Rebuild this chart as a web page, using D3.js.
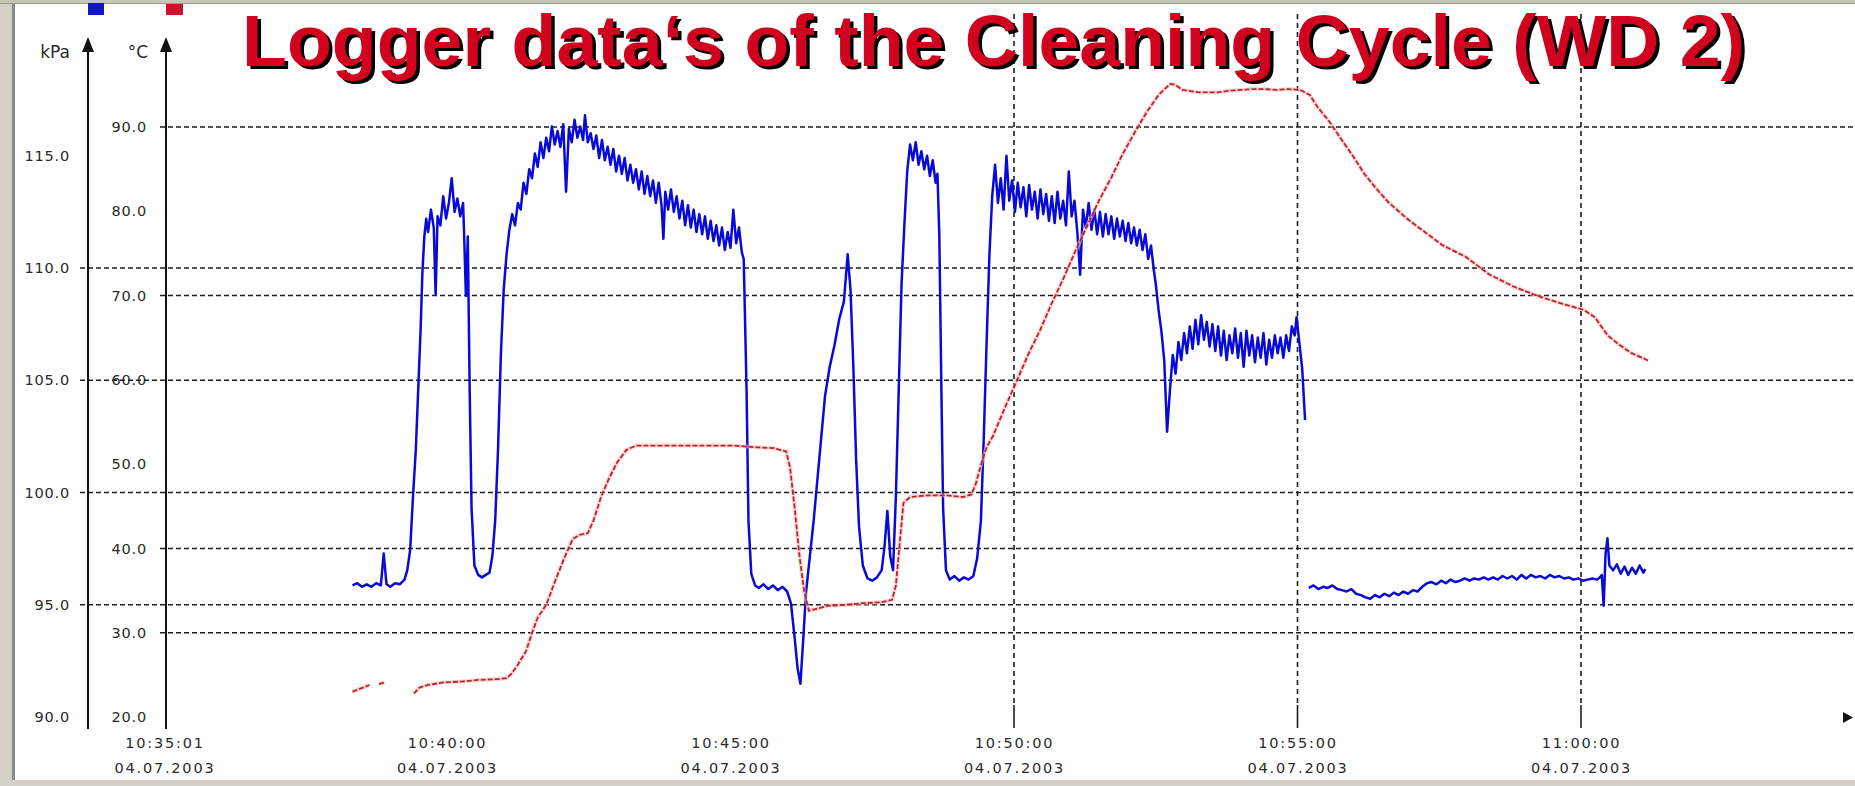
<!DOCTYPE html>
<html><head><meta charset="utf-8">
<script src="https://cdn.jsdelivr.net/npm/d3@7"></script>
<style>body{margin:0;background:#fff;overflow:hidden} svg{display:block}</style>
</head><body>
<svg id="c" width="1855" height="786"></svg>
<script>
// ---------- data ----------
const title = "Logger data\u2018s of the Cleaning Cycle (WD 2)";
const kpaTicks = [90, 95, 100, 105, 110, 115];
const kpaGrid = [95, 100, 105, 110];
const tempTicks = [20, 30, 40, 50, 60, 70, 80, 90];
const tempGrid = [30, 40, 60, 70, 90];
const timeTicks = ["10:35:01", "10:40:00", "10:45:00", "10:50:00", "10:55:00", "11:00:00"];
const timeGrid = ["10:50:00", "10:55:00", "11:00:00"];
const dateLabel = "04.07.2003";
const startTime = "10:35:00";
// [seconds after startTime, kPa]
const pressure = [[200,95.86],[205,95.96],[210,95.80],[215,95.91],[220,95.80],[225,95.96],[230,95.86],[233,97.28],[236,95.91],[240,95.80],[245,95.96],[250,95.91],[255,96.12],[258,96.54],[261,97.44],[264,99.81],[267,101.91],[270,105.07],[272,107.18],[274,109.82],[276,111.40],[278,112.19],[280,111.6],[283,112.6],[286,111.8],[288,108.8],[290,112.3],[293,111.9],[296,113.2],[299,112.2],[302,112.9],[305,114.0],[308,112.5],[311,113.1],[314,112.3],[317,112.9],[318,111.66],[320,108.76],[322,111.40],[324,104.55],[326,99.28],[329,96.75],[333,96.33],[337,96.22],[341,96.33],[345,96.43],[348,97.17],[351,98.75],[354,101.91],[357,106.13],[360,109.03],
[363,110.6],[366,111.7],[369,112.4],[372,111.9],[375,112.9],[378,112.6],[381,113.8],[384,113.3],[387,114.4],[390,114.0],[393,115.1],[396,114.5],[399,115.6],[402,114.9],[405,115.8],[408,115.2],[411,116.3],[414,115.5],[417,116.1],[420,115.4],[423,116.4],[426,113.4],[429,116.2],[432,115.6],[435,116.6],[438,115.8],[441,116.3],[444,115.7],[446,116.8],[449,115.6],[452,116.0],[455,115.3],[458,115.9],[461,114.9],[464,115.7],[467,114.8],[470,115.4],[473,114.6],[476,115.3],[479,114.3],[482,115.0],[485,114.2],[488,114.9],[491,113.9],[494,114.6],[497,113.8],[500,114.4],[503,113.5],[506,114.3],[509,113.3],[512,114.1],[515,113.2],[518,113.9],[521,112.9],[524,113.8],[527,112.8],[529,111.3],[531,113.4],[534,112.6],[537,113.5],[540,112.5],[543,113.2],[546,112.2],[549,113.0],[552,111.9],[555,112.8],[558,111.8],[561,112.6],[564,111.6],[567,112.4],[570,111.5],[573,112.3],[576,111.3],[579,112.1],[582,111.2],[585,111.9],[588,111.0],[591,111.8],[594,110.8],[597,111.6],[600,110.9],[603,112.6],[606,111.1],[609,111.8],[612,110.7],[614,110.4],
[617,104.55],[619,98.75],[622,96.38],[626,95.86],[630,95.75],[635,95.91],[640,95.70],[645,95.86],[650,95.65],[655,95.80],[660,95.59],[664,95.06],[668,93.48],[671,92.17],[674,91.48],[677,93.48],[680,95.59],[684,97.17],[688,98.75],[692,100.60],[696,102.44],[700,104.29],[705,105.60],[710,106.55],[715,107.71],[720,108.50],[724,110.61],[727,109.03],[730,105.60],[733,101.39],[736,98.49],[740,96.75],[745,96.17],[750,96.07],[755,96.22],[760,96.54],[763,97.59],[766,99.18],[769,97.17],[772,96.54],[775,99.81],[778,104.55],[781,109.29],[784,111.93],
[787,114.3],[790,115.5],[793,114.8],[796,115.6],[799,114.6],[802,115.2],[805,114.4],[808,115.0],[811,114.1],[814,114.8],[817,113.8],[819,114.2],
[821,111.40],[823,105.07],[825,99.28],[828,96.54],[832,96.12],[837,96.28],[842,96.07],[847,96.22],[852,96.12],[857,96.28],[861,97.07],[865,98.75],[868,102.44],[871,106.66],[874,110.61],
[877,113.24],[880,114.6],[883,112.9],[886,114.0],[889,112.6],[892,115.0],[895,113.0],[898,113.9],[901,112.5],[904,113.8],[907,112.7],[910,113.6],[913,112.3],[916,113.7],[919,112.6],[922,113.4],[925,112.2],[928,113.5],[931,112.4],[934,113.3],[937,112.1],[940,113.2],[943,112.0],[946,113.4],[949,112.2],[952,113.0],[955,111.9],[958,114.3],[961,112.3],[964,113.0],[967,111.6],[970,109.7],[973,112.6],[976,111.8],[979,112.9],[982,111.7],[985,112.6],[988,111.5],[991,112.5],[994,111.4],[997,112.4],[1000,111.5],[1003,112.3],[1006,111.3],[1009,112.2],[1012,111.4],[1015,112.1],[1018,111.2],[1021,112.0],[1024,111.1],[1027,111.8],[1030,111.0],[1033,111.7],[1036,110.8],[1039,111.5],[1042,110.4],[1045,111.0],[1048,109.9],
[1050,109.29],[1053,108.13],[1056,107.18],[1059,105.87],
[1062,102.71],[1065,104.55],[1068,106.13],[1071,105.29],[1074,106.7],[1077,105.9],[1080,107.1],[1083,106.2],[1086,107.4],[1089,106.4],[1092,107.7],[1095,106.6],[1098,107.9],[1101,106.8],[1104,107.6],[1107,106.5],[1110,107.5],[1113,106.3],[1116,107.4],[1119,106.1],[1122,107.2],[1125,105.9],[1128,107.0],[1131,106.2],[1134,107.3],[1137,106.0],[1140,107.1],[1143,105.6],[1146,107.2],[1149,106.1],[1152,107.0],[1155,105.8],[1158,106.9],[1161,106.0],[1164,107.1],[1167,105.7],[1170,106.8],[1173,106.0],[1176,107.0],[1179,106.2],[1182,106.9],[1185,106.0],[1188,107.0],[1191,106.3],[1194,107.4],[1197,107.0],[1199,107.81],[1202,106.66],[1205,105.50],[1208,103.23],[1210,null],
[1212,95.75],[1217,95.86],[1222,95.70],[1227,95.80],[1232,95.75],[1237,95.86],[1242,95.70],[1247,95.65],[1252,95.59],[1257,95.70],[1262,95.49],[1267,95.43],[1272,95.33],[1277,95.27],[1282,95.43],[1287,95.33],[1292,95.49],[1297,95.38],[1302,95.54],[1307,95.43],[1312,95.59],[1317,95.49],[1322,95.65],[1327,95.59],[1332,95.80],[1337,95.96],[1342,96.01],[1347,95.91],[1352,96.07],[1357,95.96],[1362,96.12],[1367,96.01],[1372,96.07],[1377,96.17],[1382,96.07],[1387,96.17],[1392,96.12],[1397,96.22],[1402,96.12],[1407,96.22],[1412,96.12],[1417,96.28],[1422,96.17],[1427,96.28],[1432,96.12],[1437,96.33],[1442,96.17],[1447,96.33],[1452,96.22],[1457,96.28],[1462,96.17],[1467,96.33],[1472,96.22],[1477,96.28],[1482,96.17],[1487,96.22],[1492,96.12],[1497,96.17],[1502,96.07],[1507,96.12],[1512,96.17],[1517,96.12],[1520,96.22],[1522,96.33],[1524,94.96],[1526,97.28],[1528,97.96],[1530,96.75],[1534,96.54],[1538,96.80],[1542,96.38],[1546,96.70],[1550,96.33],[1554,96.65],[1558,96.38],[1562,96.75],[1566,96.43],[1568,96.59]];
// [seconds after startTime, °C]
const temperature = [[200,23.0],[209,23.4],[218,23.8],[222,null],[228,23.9],[234,24.1],[240,null],[265,22.8],[271,23.5],[280,23.8],[296,24.1],[315,24.2],[334,24.4],[353,24.5],[363,24.6],[368,25.1],[375,26.2],[384,27.9],[390,30.0],[396,31.8],[405,33.3],[415,36.3],[425,39.1],[433,41.1],[440,41.6],[449,41.8],[455,43.3],[463,46.1],[471,48.2],[480,50.2],[490,51.7],[500,52.2],[528,52.2],[553,52.2],[578,52.2],[603,52.2],[628,52.0],[646,51.9],[659,51.5],[663,49.6],[668,44.7],[673,39.1],[678,34.9],[683,32.6],[690,32.8],[703,33.2],[721,33.3],[740,33.5],[759,33.6],[771,33.9],[775,35.6],[779,40.5],[783,45.4],[790,46.1],[809,46.3],[828,46.3],[846,46.1],[855,46.4],[860,47.8],[865,49.9],[871,52.0],[878,53.4],[890,56.6],[903,59.9],[915,63.0],[928,66.0],[940,69.1],[953,72.2],[965,75.3],[978,78.4],[990,81.3],[1003,84.0],[1015,86.8],[1028,89.4],[1040,91.7],[1053,93.8],[1065,95.1],[1071,95.0],[1078,94.4],[1084,94.3],[1096,94.1],[1115,94.1],[1128,94.3],[1140,94.4],[1153,94.5],[1165,94.5],[1178,94.4],[1190,94.5],[1203,94.4],[1213,93.8],[1221,92.4],[1234,90.6],[1246,88.6],[1259,86.5],[1271,84.4],[1284,82.6],[1296,81.1],[1315,79.2],[1334,77.6],[1353,76.0],[1378,74.6],[1403,72.5],[1428,71.1],[1453,70.0],[1478,69.1],[1503,68.3],[1515,67.4],[1528,65.3],[1540,64.2],[1553,63.2],[1571,62.3]];

// ---------- setup ----------
const svg = d3.select("#c");
const W = 1855, H = 786;
const parse = d3.timeParse("%d.%m.%Y %H:%M:%S");
const t0 = parse(dateLabel + " " + startTime);
const toDate = s => new Date(t0.getTime() + s * 1000);
const tp = s => parse(dateLabel + " " + s);

const x = d3.scaleTime().domain([tp("10:40:00"), tp("11:00:00")]).range([447, 1581]);
const yP = d3.scaleLinear().domain([90, 115]).range([717, 155.75]);
const yT = d3.scaleLinear().domain([20, 90]).range([717, 127]);
const axP = 88, axT = 166;
const FONT = "'Liberation Sans', Arial, sans-serif";
const LFONT = "'DejaVu Sans', sans-serif";

// window frame
svg.append("rect").attr("width", W).attr("height", H).attr("fill", "#fff");
svg.append("rect").attr("x", 0).attr("y", 0).attr("width", 12).attr("height", H).attr("fill", "#d4d0c8");
svg.append("rect").attr("x", 12).attr("y", 0).attr("width", 3).attr("height", H).attr("fill", "#8a8a8a");
svg.append("rect").attr("x", 0).attr("y", 0).attr("width", W).attr("height", 3).attr("fill", "#c6c6b4");
svg.append("rect").attr("x", 0).attr("y", 3).attr("width", W).attr("height", 1).attr("fill", "#9a9a8a");
svg.append("rect").attr("x", 0).attr("y", 780).attr("width", W).attr("height", 6).attr("fill", "#d4d0c8");

// legend squares
svg.append("rect").attr("x", 88).attr("y", 3).attr("width", 16).attr("height", 12).attr("fill", "#1414cc");
svg.append("rect").attr("x", 166).attr("y", 4).attr("width", 17).attr("height", 11).attr("fill", "#d0102a");

// horizontal gridlines (dash pattern anchored at x=0)
const grid = svg.append("g").attr("stroke", "#1c1c1c").attr("stroke-width", 1.6)
  .attr("stroke-dasharray", "5,3").attr("fill", "none");
grid.selectAll("line.gp").data(kpaGrid).join("line").attr("class", "gp")
  .attr("x1", 78).attr("x2", W).attr("y1", d => yP(d)).attr("y2", d => yP(d))
  .attr("stroke-dashoffset", 78);
grid.selectAll("line.gt").data(tempGrid.filter(t => kpaGrid.every(k => Math.abs(yP(k) - yT(t)) > 2)))
  .join("line").attr("class", "gt")
  .attr("x1", 157).attr("x2", W).attr("y1", d => yT(d)).attr("y2", d => yT(d))
  .attr("stroke-dashoffset", 157);

// vertical gridlines
const vg = svg.append("g").attr("stroke", "#1c1c1c").attr("stroke-width", 1.6);
vg.selectAll("line.vd").data(timeGrid).join("line").attr("class", "vd")
  .attr("x1", d => x(tp(d))).attr("x2", d => x(tp(d))).attr("y1", 14).attr("y2", 705)
  .attr("stroke-dasharray", "5,4");
vg.selectAll("line.vs").data(timeGrid).join("line").attr("class", "vs")
  .attr("x1", d => x(tp(d))).attr("x2", d => x(tp(d))).attr("y1", 705).attr("y2", 728);

// axis lines with arrows
[axP, axT].forEach(ax => {
  svg.append("line").attr("x1", ax).attr("x2", ax).attr("y1", 44).attr("y2", 729)
    .attr("stroke", "#111").attr("stroke-width", 2);
  svg.append("path").attr("d", `M${ax},37 L${ax - 6},52 L${ax + 6},52 Z`).attr("fill", "#111");
});
// x-axis arrow at right end
svg.append("path").attr("d", `M1853,717.5 L1843,712 L1843,723 Z`).attr("fill", "#111");

// y tick labels via d3 axes
const gP = svg.append("g").attr("transform", `translate(${axP},0)`)
  .call(d3.axisLeft(yP).tickValues(kpaTicks).tickSize(0).tickPadding(18).tickFormat(d3.format(".1f")));
const gT = svg.append("g").attr("transform", `translate(${axT},0)`)
  .call(d3.axisLeft(yT).tickValues(tempTicks).tickSize(0).tickPadding(19).tickFormat(d3.format(".1f")));
[gP, gT].forEach(g => {
  g.select(".domain").remove();
  g.selectAll("text").attr("font-family", LFONT).attr("font-size", 14.5).attr("letter-spacing", 0.8).attr("fill", "#2a2a2a");
});
svg.append("text").attr("x", 70).attr("y", 58).attr("text-anchor", "end")
  .attr("font-family", LFONT).attr("font-size", 17).attr("fill", "#2a2a2a").text("kPa");
svg.append("text").attr("x", 148).attr("y", 58).attr("text-anchor", "end")
  .attr("font-family", LFONT).attr("font-size", 17).attr("fill", "#2a2a2a").text("\u00b0C");

// x tick labels via d3 axis (two lines)
const gX = svg.append("g").attr("transform", "translate(0,730)")
  .call(d3.axisBottom(x).tickValues(timeTicks.map(tp)).tickSize(0).tickPadding(0)
    .tickFormat(d3.timeFormat("%H:%M:%S")));
gX.select(".domain").remove();
gX.selectAll(".tick text").each(function (d) {
  const t = d3.select(this);
  const lbl = t.text();
  t.text(null).attr("font-family", LFONT).attr("font-size", 14.5).attr("letter-spacing", 1.8)
    .attr("fill", "#2a2a2a").attr("dy", null).attr("y", 0);
  t.append("tspan").attr("x", 0).attr("y", 18).text(lbl);
  t.append("tspan").attr("x", 0).attr("y", 43).text(d3.timeFormat("%d.%m.%Y")(d));
});

// series
const lineP = d3.line().defined(d => d[1] != null).x(d => x(toDate(d[0]))).y(d => yP(d[1]));
const lineT = d3.line().defined(d => d[1] != null).x(d => x(toDate(d[0]))).y(d => yT(d[1]));

svg.append("path").datum(pressure).attr("d", lineP).attr("fill", "none")
  .attr("stroke", "#0a0ad8").attr("stroke-width", 2.5).attr("stroke-linejoin", "round");

svg.append("path").datum(temperature).attr("d", lineT).attr("fill", "none")
  .attr("stroke", "#f5b4b4").attr("stroke-width", 4).attr("stroke-opacity", 0.55);
svg.append("path").datum(temperature).attr("d", lineT).attr("fill", "none")
  .attr("stroke", "#c0222a").attr("stroke-width", 1.8).attr("stroke-dasharray", "5,2");

// title with shadow
const tg = svg.append("g").attr("font-family", FONT).attr("font-weight", "bold").attr("font-size", 72);
tg.append("text").attr("x", 245.5).attr("y", 69).attr("fill", "#000")
  .attr("textLength", 1503).attr("lengthAdjust", "spacingAndGlyphs").text(title);
tg.append("text").attr("x", 242).attr("y", 65.5).attr("fill", "#d0021e")
  .attr("textLength", 1503).attr("lengthAdjust", "spacingAndGlyphs").text(title);
</script>
</body></html>
